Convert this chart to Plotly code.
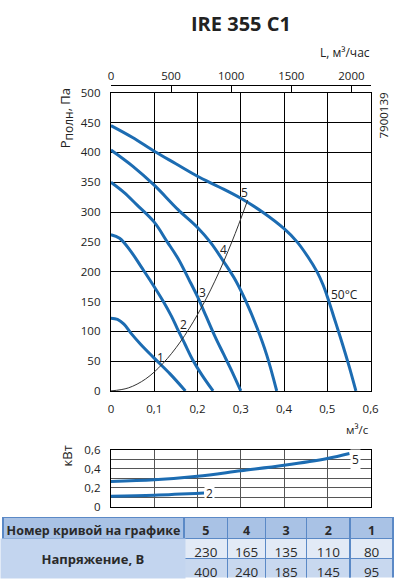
import plotly.graph_objects as go
import numpy as np

# ---------------- data ----------------
# pressure curves: flow (m3/s) and total pressure (Pa)
c5_q = [0, 0.05, 0.1, 0.15, 0.2, 0.25, 0.3, 0.35, 0.4, 0.43, 0.455, 0.476, 0.49, 0.5, 0.515, 0.53, 0.548, 0.566]
c5_p = [445, 425, 402, 381, 360, 342, 323, 300, 272, 250, 225, 200, 178, 158, 124, 90, 47, 0]
c4_q = [0, 0.05, 0.1, 0.155, 0.2, 0.23, 0.263, 0.289, 0.312, 0.338, 0.36, 0.383]
c4_p = [404, 377, 345, 304, 274, 249, 214, 184, 150, 105, 60, 0]
c3_q = [0, 0.03, 0.06, 0.1, 0.13, 0.155, 0.18, 0.2, 0.22, 0.24, 0.26, 0.28, 0.3]
c3_p = [350, 333, 312, 283, 250, 222, 187, 158, 125, 92, 62, 32, 0]
c2_q = [0, 0.02, 0.046, 0.07, 0.09, 0.121, 0.14, 0.153, 0.17, 0.189, 0.21, 0.236]
c2_p = [262, 256, 234, 208, 186, 150, 125, 105, 80, 52, 27, 0]
c1_q = [0, 0.015, 0.03, 0.046, 0.069, 0.1, 0.136, 0.172]
c1_p = [122, 120, 112, 97, 78, 55, 29, 0]

# network (system) curve
sys_q = [0, 0.04, 0.08, 0.12, 0.16, 0.2, 0.24, 0.28, 0.316]
sys_p = [0, 5, 20, 46, 82, 128, 184, 251, 320]

# power curves (kW)
w5_q = [0, 0.1, 0.2, 0.3, 0.4, 0.5, 0.551]
w5_p = [0.264, 0.282, 0.32, 0.378, 0.436, 0.508, 0.56]
w2_q = [0, 0.1, 0.215]
w2_p = [0.11, 0.12, 0.143]

# table
tbl_title = "Номер кривой на графике"
tbl_row = "Напряжение, В"
tbl_curve = ["5", "4", "3", "2", "1"]
tbl_v1 = [230, 165, 135, 110, 80]
tbl_v2 = [400, 240, 185, 145, 95]

top_ticks = [0, 500, 1000, 1500, 2000]

# ---------------- layout helpers ----------------
W, H = 401, 585
def px(x):
    return x / W
def py(y):
    return 1 - y / H

BLUE = "#1c6cb2"
FONT = "Open Sans"
TXT = "#222222"
NB = "\u00a0"

fig = go.Figure()

for q, p in [(c5_q, c5_p), (c4_q, c4_p), (c3_q, c3_p), (c2_q, c2_p), (c1_q, c1_p)]:
    fig.add_trace(go.Scatter(x=q, y=p, mode="lines", line=dict(color=BLUE, width=3, shape="spline", smoothing=1),
                             xaxis="x", yaxis="y", showlegend=False, hoverinfo="skip"))

fig.add_trace(go.Scatter(x=sys_q, y=sys_p, mode="lines", line=dict(color="#333333", width=1, shape="spline"),
                         xaxis="x", yaxis="y", showlegend=False, hoverinfo="skip"))

# invisible trace to activate top axis (m3/h)
fig.add_trace(go.Scatter(x=np.array(c5_q) * 3600, y=c5_p, mode="none", xaxis="x2", yaxis="y",
                         showlegend=False, hoverinfo="skip"))

for q, p in [(w5_q, w5_p), (w2_q, w2_p)]:
    fig.add_trace(go.Scatter(x=q, y=p, mode="lines", line=dict(color=BLUE, width=3, shape="spline"),
                             xaxis="x3", yaxis="y3", showlegend=False, hoverinfo="skip"))

# table
HDR = "#a9c2e5"
COL1 = "#c3d5ef"
R1 = "#e2eaf6"
R2 = "#c8d8ef"
LINE = "#5b89c6"
fig.add_trace(go.Table(
    domain=dict(x=[0, 1], y=[0, py(523)]),
    columnwidth=[186, 45, 39, 42, 45, 44],
    header=dict(values=[tbl_title.replace(" ", NB)] + tbl_curve,
                fill_color=HDR, line=dict(color=LINE, width=1.5), height=21, align="center",
                font=dict(family=FONT, size=12.5, color="#2a2a2a", weight="bold")),
    cells=dict(values=[["", ""]] + [[a, b] for a, b in zip(tbl_v1, tbl_v2)],
               fill_color=[[COL1, COL1]] + [[R1, R2]] * 5,
               line=dict(color=LINE, width=1.5), height=20, align="center",
               font=dict(family=FONT, size=13.5, color="#2a2a2a")),
))

axcommon = dict(showline=True, linecolor="black", linewidth=1.3, mirror=True, zeroline=False,
                gridcolor="black", gridwidth=1.2, tickfont=dict(family=FONT, size=11.5, color=TXT))

fig.update_layout(
    width=W, height=H, margin=dict(l=0, r=0, t=0, b=0),
    paper_bgcolor="white", plot_bgcolor="white",
    separators=", ",
    font=dict(family=FONT, color=TXT),
    xaxis=dict(domain=[px(111), px(378)], range=[0, 0.6], dtick=0.1, anchor="y", showgrid=True,
               ticks="", ticklabelstandoff=7, **axcommon),
    yaxis=dict(domain=[py(393), py(87)], range=[0, 500], dtick=50, anchor="x", showgrid=True,
               ticks="", ticklabelstandoff=7, **axcommon),
    xaxis2=dict(overlaying="x", side="top", anchor="free", position=py(79), range=[0, 2160],
                tickvals=top_ticks, ticks="inside", ticklen=6, tickcolor="black", showline=True,
                linecolor="black", linewidth=1.3, showgrid=False, zeroline=False,
                tickfont=dict(family=FONT, size=11.5, color=TXT)),
    xaxis3=dict(domain=[px(111), px(378)], range=[0, 0.6], dtick=0.1, anchor="y3", showgrid=True,
                showticklabels=False, ticks="", **dict(axcommon, gridcolor="#555555")),
    yaxis3=dict(domain=[py(511.7), py(453.3)], range=[0, 0.6], dtick=0.2, anchor="x3", showgrid=True,
                ticks="", ticklabelstandoff=7, minor=dict(dtick=0.1, showgrid=True, gridcolor="#555555", gridwidth=1.1),
                **dict(axcommon, gridcolor="#555555")),
)

ann = []
def a(text, x, y, xref="paper", yref="paper", size=12, **kw):
    d = dict(text=text, x=x, y=y, xref=xref, yref=yref, showarrow=False,
             xanchor="center", yanchor="middle",
             font=dict(family=FONT, size=size, color=kw.pop("color", TXT)))
    d.update(kw)
    ann.append(d)

a("<b>IRE 355 C1</b>", px(245), py(16), size=20)
a("L, м³/час", px(352), py(46), size=12)
a("P<sub><span style='font-size:12px'>полн</span></sub>, Па", px(65), py(113), size=13, textangle=-90)
a("7900139", px(391), py(110), size=11.5, textangle=-90)
a("м³/с", px(365), py(433), size=11.5)
a("кВт", px(66), py(460), size=13, textangle=-90)

# curve labels on main chart
for t, x, y in [("1", 0.115, 56), ("2", 0.1666, 112), ("3", 0.2108, 165), ("4", 0.2594, 237), ("5", 0.3094, 332)]:
    a(t, x, y, xref="x", yref="y", size=12)
a("50°C", 0.503, 162, xref="x", yref="y", size=12, xanchor="left")

# power labels
a("5", 0.565, 0.5, xref="x3", yref="y3", size=12, bgcolor="white")
a("2", 0.228, 0.135, xref="x3", yref="y3", size=12, bgcolor="white")

# merged table cell label
a("<b>%s</b>" % tbl_row, px(93), py(564.5), size=13, width=182, height=37, bgcolor=COL1, color="#2a2a2a")

fig.update_layout(annotations=ann)
fig.write_html("out.html")
